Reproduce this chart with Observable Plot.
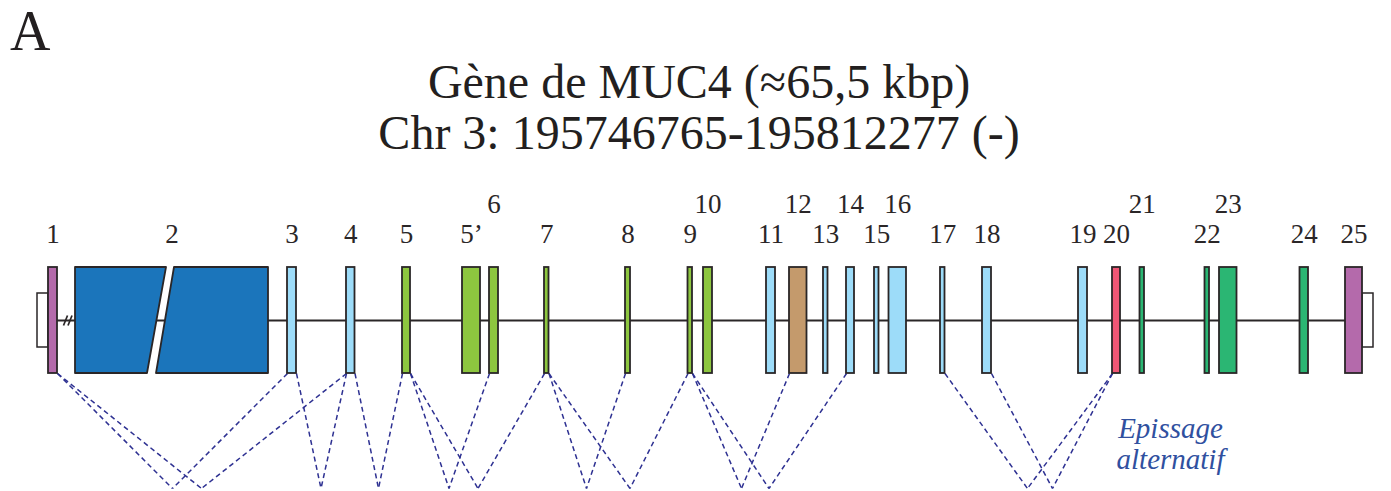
<!DOCTYPE html>
<html><head><meta charset="utf-8">
<script src="https://cdn.jsdelivr.net/npm/d3@7"></script>
<script src="https://cdn.jsdelivr.net/npm/@observablehq/plot@0.6"></script>
<style>
body{margin:0;background:#fff;width:1391px;overflow:hidden;}
#head{position:relative;height:180px;font-family:"Liberation Serif",serif;color:#231f20;}
#panel{position:absolute;left:10px;top:0px;font-size:56px;line-height:62px;}
.t{position:absolute;left:7px;width:1384px;text-align:center;font-size:48px;line-height:52px;white-space:nowrap;}
#t1{top:56px}
#t2{top:107px}
#chart svg{display:block}
</style></head><body>
<div id="head"><div id="panel"></div><div class="t" id="t1"></div><div class="t" id="t2"></div></div>
<div id="chart"></div>
<script>
// ---- data ----
const panelLetter = "A";
const titleLines = ["Gène de MUC4 (≈65,5 kbp)", "Chr 3: 195746765-195812277 (-)"];

const exonNames = ["1","2","3","4","5","5’","6","7","8","9","10","11","12","13","14","15","16","17","18","19","20","21","22","23","24","25"];
const exonStart = [48,75,287,346,402,462,489,544,625,687.5,703,766,789,823,846,874,888.5,940,982,1078,1112,1139.5,1204.5,1219,1299.5,1345];
const exonEnd   = [57,268,296,354.5,410,480,498,548.5,630,692,712,775,806.5,827.5,854,878.5,906,944.5,991,1087,1120,1144,1209,1236.5,1308,1362];
const exonGroup = ["terminal","tandem","light","light","green","green","green","green","green","green","green","light","brown","light","light","light","light","light","light","light","red","dark","dark","dark","dark","terminal"];
const labelRow  = [0,0,0,0,0,0,1,0,0,0,1,0,1,0,1,0,1,0,0,0,0,1,0,1,0,0];

// exon 2 drawn split by a slanted break: gap x at top and bottom edges
const exon2GapTop = [166, 174];
const exon2GapBottom = [147, 156];

// UTR boxes
const utrStart = [37, 1362];
const utrEnd = [48, 1373];

// "//" break marks on the intron
const breakX = [65, 69.5];

// alternative splicing dashed links: exon, side of exon, target V point
const spliceExon   = ["1","1","3","4","3","4","4","5","5","5","6","7","7","7","8","9","9","9","12","14","17","18","20","20"];
const spliceSide   = ["end","end","start","start","end","start","end","start","end","end","start","start","end","end","start","start","end","end","start","start","end","end","start","start"];
const spliceTarget = [172,201,172,201,320.5,320.5,378,378,448.5,477.5,448.5,477.5,586,629.5,586,629.5,741,768.5,741,768.5,1027,1052,1027,1052];

const annotationLines = ["Epissage", "alternatif"];

// ---- layout ----
const exonHalf = 53, utrHalf = 27, labelBase = [78, 108], vDepth = -168;
const annotX = 1170, annotBase = [-117, -148];
const ink = "#2a2627";

document.getElementById("panel").textContent = panelLetter;
document.getElementById("t1").textContent = titleLines[0];
document.getElementById("t2").textContent = titleLines[1];

const exons = exonNames.map((name, i) => ({name, start: exonStart[i], end: exonEnd[i], group: exonGroup[i], row: labelRow[i]}));
const byName = new Map(exons.map(d => [d.name, d]));
const ex2 = byName.get("2");
const exon2Pieces = [
  {piece: "a", y: exonHalf, x1: ex2.start, x2: exon2GapTop[0]},
  {piece: "a", y: -exonHalf, x1: ex2.start, x2: exon2GapBottom[0]},
  {piece: "b", y: exonHalf, x1: exon2GapTop[1], x2: ex2.end},
  {piece: "b", y: -exonHalf, x1: exon2GapBottom[1], x2: ex2.end}
];
const splices = spliceExon.map((e, i) => ({
  x1: spliceSide[i] === "start" ? byName.get(e).start : byName.get(e).end,
  x2: spliceTarget[i]
}));
const utrs = utrStart.map((s, i) => ({start: s, end: utrEnd[i]}));
const first = exons[0], last = exons[exons.length - 1];

const chart = Plot.plot({
  width: 1391, height: 311, margin: 0,
  x: {domain: [0, 1391], axis: null},
  y: {domain: [-171, 140], axis: null},
  color: {
    domain: ["terminal","tandem","light","green","brown","red","dark"],
    range: ["#b46aab","#1b75bb","#9ddcf9","#8dc63f","#c49a6c","#ef5675","#2bb673"]
  },
  style: {background: "transparent"},
  marks: [
    Plot.link(splices, {x1: "x1", x2: "x2", y1: () => -exonHalf, y2: () => vDepth,
      stroke: "#2e3192", strokeWidth: 1.5, strokeDasharray: "5,3.5"}),
    Plot.ruleY([0], {x1: first.end, x2: last.start, stroke: ink, strokeWidth: 2}),
    Plot.rect(utrs, {x1: "start", x2: "end", y1: () => -utrHalf, y2: () => utrHalf,
      fill: "white", stroke: ink, strokeWidth: 1.5}),
    Plot.rect(exons.filter(d => d.name !== "2"), {x1: "start", x2: "end", y1: () => -exonHalf, y2: () => exonHalf,
      fill: "group", stroke: ink, strokeWidth: 1.8}),
    Plot.areaX(exon2Pieces, {y: "y", x1: "x1", x2: "x2", z: "piece", fill: () => "tandem",
      stroke: ink, strokeWidth: 1.8}),
    Plot.link(breakX, {x1: d => d - 2, x2: d => d + 2, y1: () => -5, y2: () => 5, stroke: ink, strokeWidth: 1.7}),
    Plot.text(exons, {x: d => (d.start + d.end) / 2, y: d => labelBase[d.row], text: "name",
      lineAnchor: "bottom", fontSize: 27, fontFamily: "Liberation Serif", fill: ink}),
    Plot.text(annotationLines, {x: () => annotX, y: (d, i) => annotBase[i], text: d => d,
      lineAnchor: "bottom", fontSize: 29, fontStyle: "italic", fontFamily: "Liberation Serif", fill: "#30509f"})
  ]
});
document.getElementById("chart").appendChild(chart);
</script>
</body></html>
